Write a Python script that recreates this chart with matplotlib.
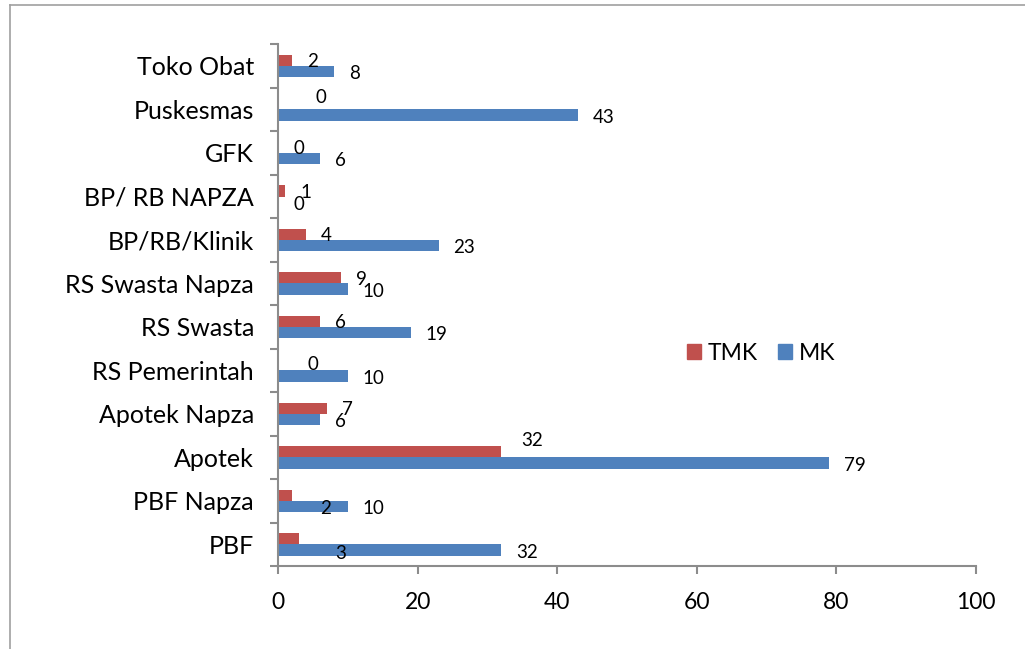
import matplotlib
matplotlib.use("Agg")
import matplotlib.pyplot as plt
import numpy as np
from matplotlib.lines import Line2D
from matplotlib.patches import Patch

plt.rcParams['font.family'] = ['Lato', 'DejaVu Sans']

# data (bottom -> top, as the chart reads)
categories = ["PBF", "PBF Napza", "Apotek", "Apotek Napza", "RS Pemerintah",
              "RS Swasta", "RS Swasta Napza", "BP/RB/Klinik", "BP/ RB NAPZA",
              "GFK", "Puskesmas", "Toko Obat"]
tmk = [3, 2, 32, 7, 0, 6, 9, 4, 1, 0, 0, 2]
mk = [32, 10, 79, 6, 10, 19, 10, 23, 0, 6, 43, 8]

# a few TMK labels sit off their usual spot in the original (pixels: right, down)
tmk_label_nudge = {"Puskesmas": (38, -6), "RS Pemerintah": (30, 0),
                   "Apotek": (20, -11), "PBF Napza": (28, 13), "PBF": (36, 15)}

red = "#C0504D"
blue = "#4F81BD"
gray = "#8C8C8C"
px = 0.72  # points per pixel at dpi 100

fig = plt.figure(figsize=(10.25, 6.49), dpi=100)
ax = fig.add_axes([278/1025, 1-566/649, (976-278)/1025, (566-44)/649])

y = np.arange(len(categories))
h = 0.265
off = 0.125
ax.barh(y + off, tmk, height=h, color=red, label="TMK")
ax.barh(y - off - 0.01, mk, height=h, color=blue, label="MK")

for i, cat in enumerate(categories):
    dx, dy = tmk_label_nudge.get(cat, (15, 1.5))
    ax.annotate(str(tmk[i]), (tmk[i], y[i] + off), xytext=(dx*px, -dy*px),
                textcoords="offset points", ha="left", va="center", fontsize=13.5)
    ax.annotate(str(mk[i]), (mk[i], y[i] - off - 0.01), xytext=(15*px, -2*px),
                textcoords="offset points", ha="left", va="center", fontsize=13.5)

ax.set_xlim(0, 100)
ax.set_ylim(-0.5, len(categories) - 0.5)
ax.set_xticks([0, 20, 40, 60, 80, 100])
ax.set_yticks(y)
ax.set_yticklabels(categories)
ax.set_yticks(np.arange(-0.5, len(categories)), minor=True)

for s in ["top", "right"]:
    ax.spines[s].set_visible(False)
for s in ["left", "bottom"]:
    ax.spines[s].set_color(gray)
    ax.spines[s].set_linewidth(1.5)

ax.tick_params(axis="y", which="major", length=0, pad=24*px, labelsize=18)
ax.tick_params(axis="y", which="minor", length=8*px, width=1.5, color=gray)
ax.tick_params(axis="x", length=8*px, width=1.5, color=gray, pad=18*px, labelsize=16.5)

handles = [Patch(color=red), Patch(color=blue)]
fig.legend(handles, ["TMK", "MK"], loc="center left",
           bbox_to_anchor=(687/1025, 1-353/649), ncol=2, frameon=False,
           fontsize=16.5, handlelength=0.62, handleheight=0.62,
           handletextpad=0.3, columnspacing=0.85, borderpad=0, borderaxespad=0)

# outer chart border (only left and top edges fall inside the picture)
fig.add_artist(Line2D([10/1025, 10/1025], [0, 1-5/649], color="#A0A0A0", lw=1.2,
                      transform=fig.transFigure))
fig.add_artist(Line2D([10/1025, 1], [1-5/649, 1-5/649], color="#A0A0A0", lw=1.2,
                      transform=fig.transFigure))

fig.savefig("out.png", dpi=100)
